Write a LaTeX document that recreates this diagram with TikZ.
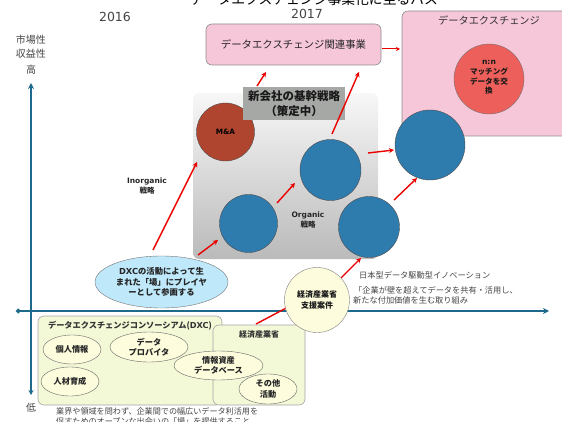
\documentclass[tikz,border=0pt]{standalone}
\usepackage{fontspec}
\setmainfont{Noto Sans CJK JP}
\newfontfamily\lat{DejaVu Sans}
\usetikzlibrary{shapes.geometric,arrows.meta}
\newcommand{\fs}[1]{\fontsize{#1}{#1}\selectfont}
\definecolor{axisblue}{HTML}{1F6A8C}
\definecolor{ballblue}{HTML}{2E7BAE}
\definecolor{pinkbox}{HTML}{F6C6D9}
\definecolor{brownball}{HTML}{B0452F}
\definecolor{redball}{HTML}{EC5F5A}
\definecolor{greenbox}{HTML}{F3F8D6}
\definecolor{creamfill}{HTML}{FDFCDD}
\definecolor{skyfill}{HTML}{BFE9FA}
\definecolor{labelgrey}{HTML}{A6A8A6}
\definecolor{txtgrey}{HTML}{444444}
\tikzset{
  ball/.style={circle,draw=black!70,line width=.4pt,fill=ballblue,inner sep=0pt},
  pinkpanel/.style={draw=black!45,line width=.6pt,fill=pinkbox,rounded corners=6pt,inner sep=0pt},
  greenpanel/.style={draw=black!35,line width=.6pt,fill=greenbox,rounded corners=6pt,inner sep=0pt},
  oval/.style={ellipse,draw=black!60,line width=.4pt,fill=creamfill,inner sep=0pt,align=center,font=\fs{8.2}\bfseries,text=black!85},
  redarrow/.style={draw=red!92!black,line width=1.4pt,-{Stealth[length=5pt,width=5pt]}},
  thinredarrow/.style={draw=red!92!black,line width=1pt,-{Stealth[length=4pt,width=4pt]}},
  axisline/.style={draw=axisblue,line width=1.3pt},
  caption/.style={anchor=west,inner sep=0pt,text=txtgrey,font=\fs{8.2}},
  plain/.style={inner sep=0pt,align=center}
}
\begin{document}
\begin{tikzpicture}[x=1pt,y=-1pt]
\clip (0,0) rectangle (562,422);
% texts at top
\node[plain,font=\fs{13.8},text=black] (title) at (314,-1) {データエクスチェンジ事業化に至るパス};
\node[plain,font=\lat\fs{12.5},text=txtgrey] (y2016) at (115,17) {2016};
\node[plain,font=\lat\fs{12.5},text=txtgrey] (y2017) at (307,14) {2017};
\node[plain,font=\fs{10},text=txtgrey] (m1) at (31,40) {市場性};
\node[plain,font=\fs{10},text=txtgrey] (m2) at (31,54) {収益性};
\node[plain,font=\fs{10},text=txtgrey] (m3) at (31,70) {高};
\node[plain,font=\fs{10},text=txtgrey] (low) at (31,408) {低};
% axes
\coordinate (ytop) at (31,83);
\coordinate (ybot) at (31,395);
\coordinate (xleft) at (16,311);
\coordinate (xright) at (549,311);
\draw[axisline,{Stealth[length=5pt,width=5pt]}-{Stealth[length=6pt,width=6pt]}] (ybot) -- (ytop);
\draw[axisline,{Circle[length=4.5pt]}-{Stealth[length=6pt,width=6pt]}] (xleft) -- (xright);
% panels
\node[pinkpanel,minimum width=175pt,minimum height=41pt] (rel) at (293.5,44.5) {};
\node[plain,font=\fs{10.4},text=black!85] at (rel) {データエクスチェンジ関連事業};
\node[pinkpanel,minimum width=175pt,minimum height=125pt] (dx) at (489.5,73.5) {};
\node[plain,font=\fs{10.2},text=black!80] (dxt) at (489,20) {データエクスチェンジ};
\node[circle,draw=black!55,line width=.4pt,fill=redball,minimum width=70pt,inner sep=0pt] (nn) at (489,79) {};
\node[plain,font=\fs{7.6}\bfseries,text=black!90] at (489,77.5) {\lat n:n\\[2pt]マッチング\\[2pt]データを交\\[2pt]換};
\node[rounded corners=6pt,top color=white!97!black,bottom color=black!27,inner sep=0pt,minimum width=185pt,minimum height=166pt] (core) at (285.5,176) {};
\node[ball,fill=brownball,minimum width=58pt] (ma) at (225.5,132) {};
\node[plain,font=\lat\fs{7.3}\bfseries] at (ma) {M\&A};
\node[ball,minimum width=58pt] (b1) at (248.5,223.5) {};
\node[ball,minimum width=61pt] (b2) at (330.5,170) {};
\node[ball,minimum width=61pt] (b3) at (369,227) {};
\node[ball,minimum width=70pt] (b4) at (430,145) {};
\node[fill=labelgrey,plain,minimum width=102pt,minimum height=33pt,font=\fs{11.5}\bfseries,text=black!90] (plan) at (294,103.5) {新会社の基幹戦略\\[3pt]（策定中）};
\node[plain,font=\lat\fs{7.5}\bfseries,text=black!85] (inorg) at (147,186) {Inorganic\\[1pt]\fs{7.5}\normalfont\bfseries 戦略};
\node[plain,font=\lat\fs{7.5}\bfseries,text=black!85] (org) at (308,220) {Organic\\[1pt]\fs{7.5}\normalfont\bfseries 戦略};
% lower left
\node[greenpanel,minimum width=184pt,minimum height=89pt] (dxc) at (130,360.5) {};
\node[greenpanel,minimum width=92pt,minimum height=80pt] (meti) at (259,365) {};
\node[plain,font=\fs{8.2}\bfseries,text=black!80] (dxct) at (130,325.5) {データエクスチェンジコンソーシアム({\lat DXC})};
\node[plain,font=\fs{8}\bfseries,text=black!80] (metit) at (259,334) {経済産業省};
\node[oval,minimum width=58pt,minimum height=29pt] (o1) at (72,349.5) {個人情報};
\node[oval,minimum width=78pt,minimum height=30pt] (o2) at (149,347) {データ\\[2pt]プロバイタ};
\node[oval,minimum width=58pt,minimum height=29pt] (o3) at (70,381.5) {人材育成};
\node[oval,minimum width=89pt,minimum height=29pt] (o4) at (218.5,365.5) {情報資産\\[2pt]データベース};
\node[oval,minimum width=58pt,minimum height=30pt] (o5) at (268,389) {その他\\[2pt]活動};
% ellipse and circle
\node[ellipse,draw=black!55,line width=.4pt,fill=skyfill,minimum width=133pt,minimum height=52pt,inner sep=0pt,align=center,font=\fs{8.3}\bfseries,text=black!85] (dxe) at (161.5,282) {{\lat DXC}の活動によって生\\[2.5pt]まれた「場」にプレイヤ\\[2.5pt]ーとして参画する};
% red connectors
\coordinate (a1) at (153,250); \coordinate (a2) at (197,162);
\coordinate (b1s) at (198,255); \coordinate (b1e) at (218,240);
\coordinate (c1) at (277,203); \coordinate (c2) at (295,183);
\coordinate (d1) at (332,134); \coordinate (d2) at (359,72);
\coordinate (e1) at (368,153); \coordinate (e2) at (394,150);
\coordinate (f1) at (394,200); \coordinate (f2) at (417,178);
\coordinate (g1) at (257,86); \coordinate (g2) at (266,72);
\coordinate (h1) at (382,49); \coordinate (h2) at (400,49);
\coordinate (i1) at (341,278); \coordinate (i2) at (361,258);
\coordinate (j1) at (256,324); \coordinate (j2) at (290,306);
\draw[redarrow] (a1) -- (a2);
\draw[redarrow] (b1s) -- (b1e);
\draw[redarrow] (c1) -- (c2);
\draw[redarrow] (d1) -- (d2);
\draw[redarrow] (e1) -- (e2);
\draw[redarrow] (f1) -- (f2);
\draw[redarrow] (g1) -- (g2);
\draw[thinredarrow] (h1) -- (h2);
\draw[redarrow] (i1) -- (i2);
\draw[redarrow] (j1) -- (j2);
\node[circle,draw=black!50,line width=.4pt,fill=creamfill,minimum width=65pt,inner sep=0pt,align=center,font=\fs{8}\bfseries,text=black!90] (sup) at (317,300) {経済産業省\\[3pt]支援案件};
% captions
\node[caption] (c_a) at (359,275) {日本型データ駆動型イノベーション};
\node[caption] (c_b) at (354,290) {「企業が壁を超えてデータを共有・活用し、};
\node[caption] (c_c) at (353,300) {新たな付加価値を生む取り組み};
\node[caption,font=\fs{8.1}] (c_d) at (56,411) {業界や領域を問わず、企業間での幅広いデータ利活用を};
\node[caption,font=\fs{8.1}] (c_e) at (56,421) {促すためのオープンな出会いの「場」を提供すること};
\end{tikzpicture}
\end{document}
